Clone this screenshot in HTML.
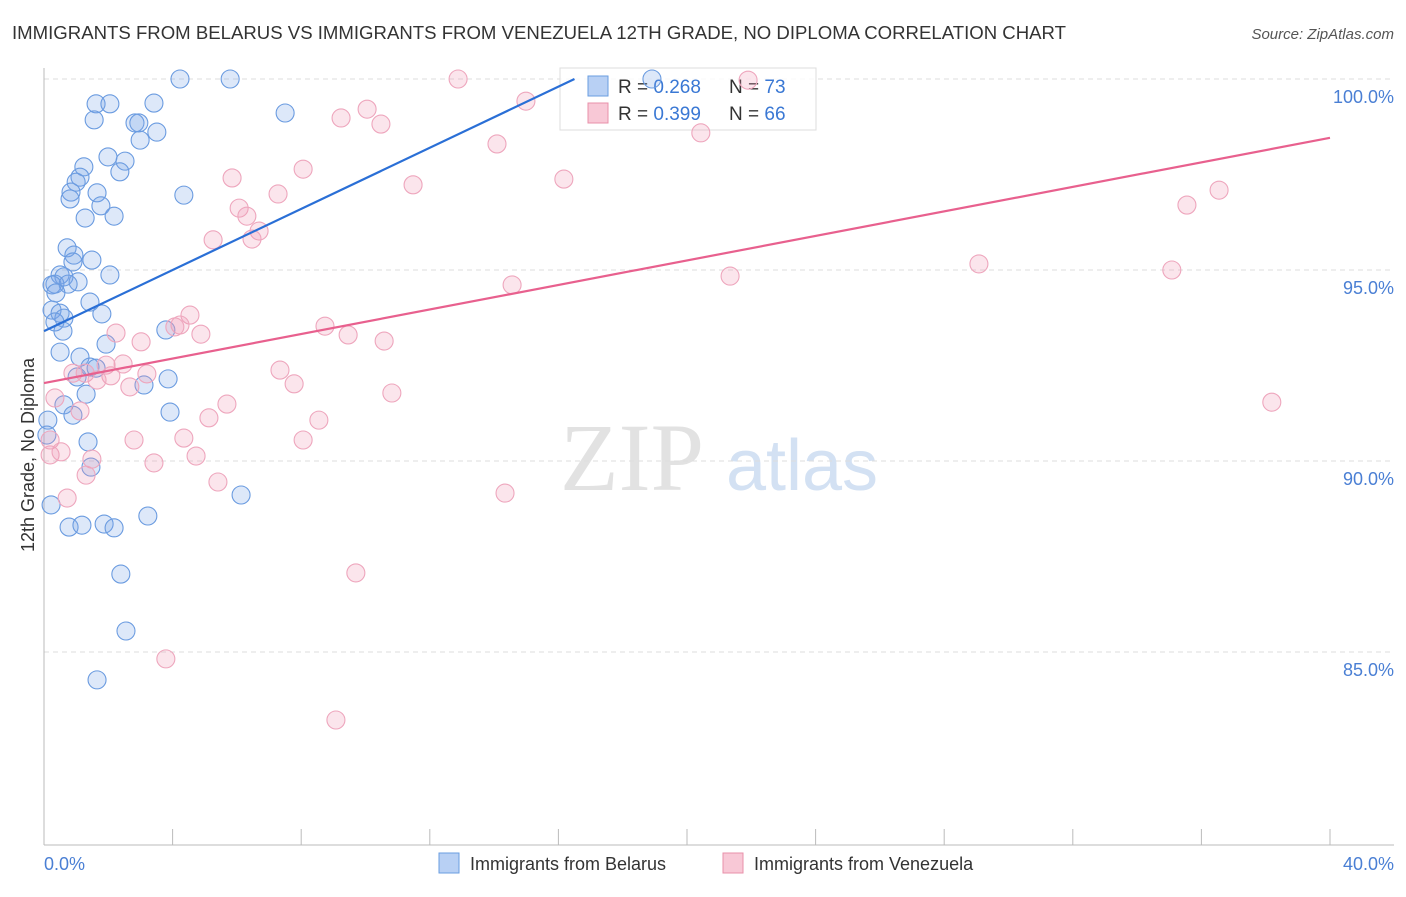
<!DOCTYPE html>
<html><head><meta charset="utf-8"><style>
body{margin:0;background:#fff;font-family:"Liberation Sans",sans-serif}
</style></head><body>
<svg id="chart" width="1406" height="892" xmlns="http://www.w3.org/2000/svg">
<text x="12" y="39" font-size="18" fill="#333" textLength="1054" lengthAdjust="spacingAndGlyphs">IMMIGRANTS FROM BELARUS VS IMMIGRANTS FROM VENEZUELA 12TH GRADE, NO DIPLOMA CORRELATION CHART</text>
<text x="1394" y="39" font-size="15" fill="#555" text-anchor="end" font-style="italic">Source: ZipAtlas.com</text>
<g><text x="632" y="490" font-size="96" fill="#e2e2e2" font-family="Liberation Serif" text-anchor="middle">ZIP</text><text x="802" y="490" font-size="72" fill="#d3e1f3" text-anchor="middle">atlas</text></g>
<g id="grid"></g><g id="axes"></g>
<g>
<rect x="560" y="68" width="256" height="62" fill="#fff" fill-opacity="0.85" stroke="#ddd"/>
<rect x="588" y="76" width="20" height="20" fill="#b8d0f4" stroke="#6a9ee0"/>
<text x="618" y="93" font-size="19" fill="#333">R = <tspan fill="#3a78d4">0.268</tspan></text>
<text x="729" y="93" font-size="19" fill="#333">N = <tspan fill="#3a78d4">73</tspan></text>
<rect x="588" y="103" width="20" height="20" fill="#f8c8d6" stroke="#e890aa"/>
<text x="618" y="120" font-size="19" fill="#333">R = <tspan fill="#3a78d4">0.399</tspan></text>
<text x="729" y="120" font-size="19" fill="#333">N = <tspan fill="#3a78d4">66</tspan></text>
</g>
<g id="pts"></g><g id="lines"></g>
<text transform="translate(34,455) rotate(-90)" font-size="18" fill="#333" text-anchor="middle">12th Grade, No Diploma</text>
<text x="44" y="870" font-size="18" fill="#4a7fd4">0.0%</text>
<text x="1394" y="870" font-size="18" fill="#4a7fd4" text-anchor="end">40.0%</text>
<g>
<rect x="439" y="853" width="20" height="20" fill="#b8d0f4" stroke="#6a9ee0"/>
<text x="470" y="870" font-size="18" fill="#333">Immigrants from Belarus</text>
<rect x="723" y="853" width="20" height="20" fill="#f8c8d6" stroke="#e890aa"/>
<text x="754" y="870" font-size="18" fill="#333">Immigrants from Venezuela</text>
</g>
</svg>
<script>
const yTicks=[100,95,90,85];
const yTickLabels=["100.0%","95.0%","90.0%","85.0%"];
const belarusX=[4.23,5.79,7.50,1.62,2.05,1.56,3.42,2.83,2.95,3.51,2.99,1.99,2.52,1.24,2.36,1.12,1.00,1.65,0.84,0.81,1.77,1.28,2.18,4.35,0.72,0.93,1.49,0.90,0.50,0.62,2.05,1.06,0.34,0.25,0.75,0.37,1.43,1.80,0.25,0.50,0.62,0.34,0.59,3.79,1.93,0.50,1.12,1.43,1.62,1.03,3.86,3.11,1.31,0.62,0.90,3.92,0.12,0.09,1.37,1.46,6.13,0.22,0.78,1.18,1.87,2.18,3.23,2.39,2.55,1.65,18.91];
const belarusY=[100,100,99.11,99.35,99.35,98.93,99.37,98.85,98.85,98.61,98.40,97.96,97.85,97.70,97.57,97.43,97.30,97.02,97.04,96.86,96.68,96.36,96.41,96.96,95.58,95.39,95.26,95.21,94.87,94.82,94.87,94.69,94.63,94.61,94.63,94.40,94.16,93.85,93.95,93.87,93.74,93.64,93.40,93.43,93.06,92.85,92.72,92.46,92.43,92.20,92.15,91.99,91.75,91.47,91.20,91.28,91.07,90.68,90.50,89.84,89.11,88.85,88.27,88.32,88.35,88.25,88.56,87.04,85.55,84.27,100];
const venezX=[12.88,21.90,14.99,10.05,9.24,10.48,14.09,20.43,8.06,5.85,11.48,16.17,7.28,36.55,35.55,6.07,6.31,6.69,6.47,5.26,29.08,35.08,21.34,14.56,4.54,4.23,4.07,8.74,4.88,2.24,9.46,10.58,3.02,1.93,2.46,0.90,1.28,3.20,2.08,1.65,7.34,7.78,2.67,10.82,38.19,0.34,1.12,5.69,5.13,8.55,0.19,0.19,0.53,2.80,4.35,8.06,1.49,3.42,4.73,1.31,5.41,0.72,14.34,9.70,3.79,9.08];
const venezY=[100,99.97,99.42,99.21,98.98,98.82,98.30,98.59,97.64,97.41,97.23,97.38,96.99,97.09,96.70,96.62,96.41,96.02,95.81,95.79,95.16,95.00,94.84,94.61,93.82,93.56,93.51,93.53,93.32,93.35,93.30,93.14,93.12,92.51,92.54,92.30,92.30,92.28,92.23,92.12,92.38,92.02,91.94,91.78,91.54,91.65,91.31,91.49,91.13,91.07,90.55,90.16,90.24,90.55,90.60,90.55,90.05,89.95,90.13,89.63,89.45,89.03,89.16,87.07,84.82,83.22];
const belarusTrend=[[0,93.40],[16.5,100]];
const venezTrend=[[0,92.04],[40,98.46]];
const NS="http://www.w3.org/2000/svg";
const sx=v=>44+v/40*1286;
const sy=v=>79+(100-v)*38.2;
function mk(tag,attrs,parent){const e=document.createElementNS(NS,tag);for(const k in attrs)e.setAttribute(k,attrs[k]);document.getElementById(parent).appendChild(e);return e;}
yTicks.forEach((t,i)=>{
 const l=mk('line',{x1:44,x2:1394,y1:sy(t),y2:sy(t),stroke:'#ddd','stroke-dasharray':'5,4'},'grid');
 
 
 const tx=mk('text',{x:1394,y:sy(t)+24,'font-size':18,fill:'#4a7fd4','text-anchor':'end'},'grid');
 tx.textContent=yTickLabels[i];
 
 
});
const ax=mk('line',{x1:44,x2:44,y1:68,y2:845,stroke:'#bbb'},'axes');


const bx=mk('line',{x1:44,x2:1394,y1:845,y2:845,stroke:'#bbb'},'axes');


for(let k=0;k<=10;k++){
 const t=mk('line',{x1:sx(k*4),x2:sx(k*4),y1:829,y2:845,stroke:'#bbb'},'axes');
 
 
}
belarusX.forEach((x,i)=>{
 const c=mk('circle',{cx:sx(x),cy:sy(belarusY[i]),r:9,fill:'rgba(120,165,230,0.25)',stroke:'#6a9be0','stroke-width':1.1},'pts');
 
 
});
venezX.forEach((x,i)=>{
 const c=mk('circle',{cx:sx(x),cy:sy(venezY[i]),r:9,fill:'rgba(240,150,180,0.25)',stroke:'#eea6bd','stroke-width':1.1},'pts');
 
 
});
const l1=mk('line',{x1:sx(belarusTrend[0][0]),y1:sy(belarusTrend[0][1]),x2:sx(belarusTrend[1][0]),y2:sy(belarusTrend[1][1]),stroke:'#2a6fd6','stroke-width':2.2},'lines');


const l2=mk('line',{x1:sx(venezTrend[0][0]),y1:sy(venezTrend[0][1]),x2:sx(venezTrend[1][0]),y2:sy(venezTrend[1][1]),stroke:'#e8608e','stroke-width':2.2},'lines');


</script>
</body></html>
